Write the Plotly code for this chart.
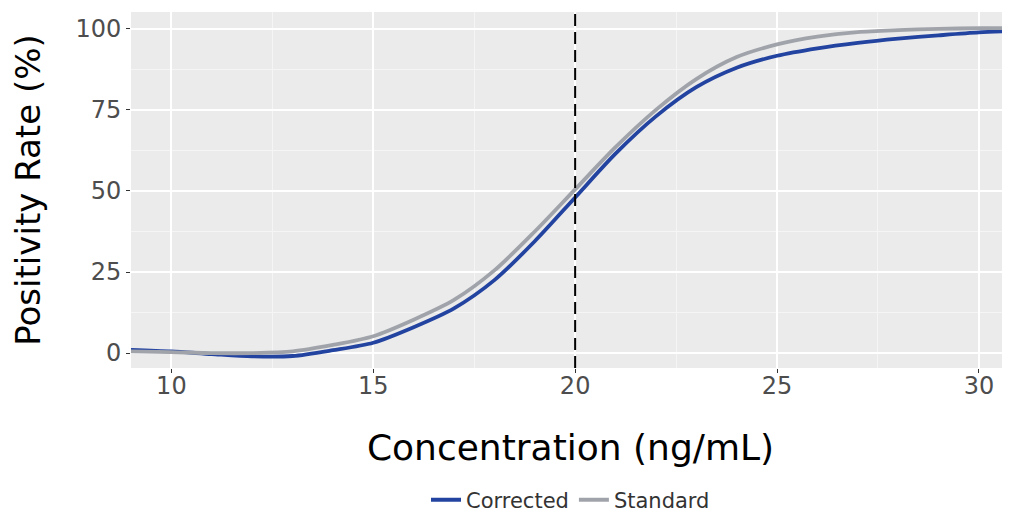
import plotly.graph_objects as go

conc = [9, 10, 11, 12, 13, 14, 15, 16, 17, 18, 19, 20, 21, 22, 23, 24, 25, 26, 27, 28, 29, 30, 30.8]
standard = [0.5, 0.3, 0.0, 0.0, 0.5, 2.5, 5.2, 10.3, 16.4, 25.5, 37.5, 50.5, 63.5, 75.0, 84.5,
            91.3, 95.2, 97.6, 99.0, 99.6, 100.0, 100.2, 100.2]
corrected = [1.0, 0.5, -0.3, -1.0, -0.9, 0.9, 3.2, 8.0, 13.8, 22.5, 34.5, 48.0, 61.5, 73.0, 82.0,
             88.0, 91.7, 94.0, 95.7, 97.0, 98.0, 98.9, 99.3]
cutoff = 20

FONT = "DejaVu Sans"

fig = go.Figure()
fig.add_trace(go.Scatter(x=conc, y=corrected, mode="lines", name="Corrected",
                         line=dict(color="#2343A0", width=3.8, shape="spline", smoothing=0.8)))
fig.add_trace(go.Scatter(x=conc, y=standard, mode="lines", name="Standard",
                         line=dict(color="#A0A4AA", width=3.8, shape="spline", smoothing=0.8)))

fig.add_vline(x=cutoff, line=dict(color="black", width=2, dash="12px,6px"))

# page body has an 8px margin, so the figure is 1002x505 placed at (8, 8)
fig.update_layout(
    width=1002, height=505,
    margin=dict(l=123, r=0, t=4, b=145, autoexpand=False),
    paper_bgcolor="white", plot_bgcolor="#EBEBEB",
    font=dict(family=FONT, color="#4D4D4D"),
    showlegend=True,
    legend=dict(orientation="h", x=0.5, xanchor="center", y=-0.371, yanchor="middle",
                font=dict(family=FONT, size=21, color="#333333"),
                itemwidth=30, bgcolor="rgba(0,0,0,0)", tracegroupgap=0),
)
fig.update_xaxes(
    range=[9.0, 30.77], tick0=0, dtick=5, showgrid=True, gridcolor="white", gridwidth=1.5,
    minor=dict(dtick=2.5, showgrid=True, gridcolor="#F5F5F5", gridwidth=0.8),
    ticks="outside", ticklen=4, tickcolor="#333333", tickwidth=1,
    tickfont=dict(family=FONT, size=24, color="#4D4D4D"), ticklabelstandoff=-8,
    zeroline=False, showline=False, automargin=False,
    title=dict(text="Concentration (ng/mL)", font=dict(family=FONT, size=36, color="black"), standoff=36),
)
fig.update_yaxes(
    range=[-4.6, 105.2], tick0=0, dtick=25, showgrid=True, gridcolor="white", gridwidth=1.5,
    minor=dict(dtick=12.5, showgrid=True, gridcolor="#F5F5F5", gridwidth=0.8),
    ticks="outside", ticklen=4, tickcolor="#333333", tickwidth=1,
    tickfont=dict(family=FONT, size=24, color="#4D4D4D"),
    zeroline=False, showline=False, automargin=False,
    title=dict(text="Positivity Rate (%)", font=dict(family=FONT, size=34, color="black"), standoff=25),
)

fig.write_html("out.html")
